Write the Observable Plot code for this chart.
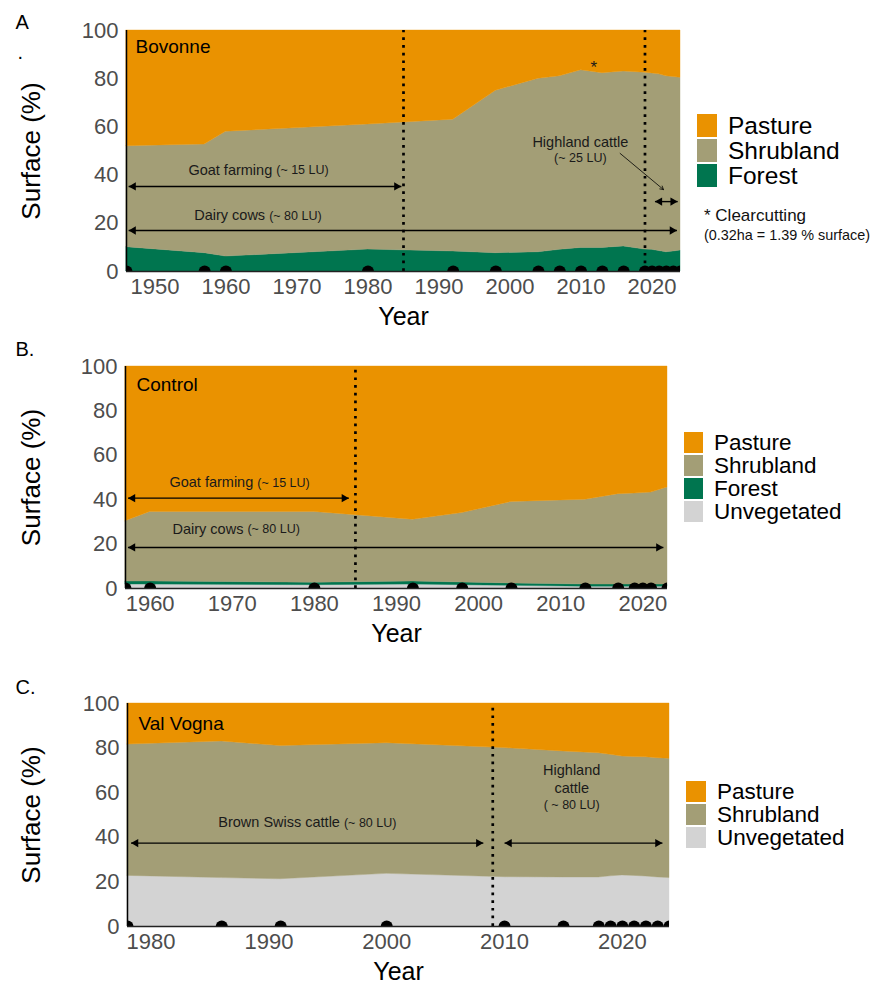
<!DOCTYPE html>
<html>
<head>
<meta charset="utf-8">
<script src="https://cdn.jsdelivr.net/npm/d3@7"></script>
<script src="https://cdn.jsdelivr.net/npm/@observablehq/plot@0.6"></script>
<style>
  body { margin: 0; background: #fff; }
  #fig { position: relative; width: 872px; height: 983px; overflow: hidden;
         font-family: 'Liberation Sans', Arial, Helvetica, sans-serif; }
  #fig svg.panel { position: absolute; left: 0; }
  .legend { position: absolute; color: #000; }
  .legend .row { display: flex; align-items: center; overflow: visible; }
  .legend .sw { box-sizing: border-box; border: 1px solid #fff; margin-right: 10px; flex: none; }
  .legend .lab { display: block; overflow: visible; white-space: nowrap; }
  .note { position: absolute; color: #111; white-space: nowrap; }
</style>
</head>
<body>
<div id="fig"></div>
<script>
const FONT = "'Liberation Sans', Arial, Helvetica, sans-serif";

// Land-cover classes and their fills
const covers = ["Pasture", "Shrubland", "Forest", "Unvegetated"];
const coverColors = ["#EA9200", "#A39E76", "#00754F", "#D3D3D3"];
const stackOrder = ["Unvegetated", "Forest", "Shrubland", "Pasture"];
const yTicks = [0, 20, 40, 60, 80, 100];

// A. Bovonne — surface share (%) at each survey year
const yearsA = [1946, 1957, 1960, 1980, 1992, 1998, 2004, 2007, 2010, 2013, 2016, 2019, 2020, 2021, 2022, 2023, 2024];
const forestA = [10.1, 7.6, 6.2, 9.1, 8.3, 7.6, 8.0, 9.0, 9.8, 9.8, 10.4, 9.1, 9.0, 8.5, 8.0, 8.3, 8.7];
const shrublandA = [41.9, 45.1, 51.8, 51.9, 54.7, 67.4, 72.0, 72.0, 73.7, 72.5, 72.6, 73.4, 73.2, 73.3, 73.0, 72.4, 71.7];
const pastureA = [48.0, 47.3, 42.0, 39.0, 37.0, 25.0, 20.0, 19.0, 16.5, 17.7, 17.0, 17.5, 17.8, 18.2, 19.0, 19.3, 19.6];
const ticksA = [1950, 1960, 1970, 1980, 1990, 2000, 2010, 2020];
const changesA = [1985, 2019];

// B. Control
const yearsB = [1957, 1960, 1980, 1992, 1998, 2004, 2013, 2017, 2019, 2020, 2021, 2023];
const unvegetatedB = [1.8, 1.8, 1.5, 1.8, 1.5, 1.2, 0.8, 0.8, 0.8, 0.8, 0.8, 0.8];
const forestB = [1.3, 1.4, 1.1, 1.4, 1.2, 1.1, 1.0, 1.0, 1.0, 1.0, 1.0, 1.0];
const shrublandB = [27.2, 31.3, 31.9, 27.8, 31.3, 36.7, 38.2, 40.7, 41.0, 41.2, 41.4, 43.7];
const pastureB = [69.7, 65.5, 65.5, 69.0, 66.0, 61.0, 60.0, 57.5, 57.2, 57.0, 56.8, 54.5];
const ticksB = [1960, 1970, 1980, 1990, 2000, 2010, 2020];
const changesB = [1985];

// C. Val Vogna
const yearsC = [1978, 1986, 1991, 2000, 2010, 2015, 2018, 2019, 2020, 2021, 2022, 2023, 2024];
const unvegetatedC = [22.7, 21.7, 21.2, 23.6, 22.1, 22.0, 22.0, 22.5, 22.9, 22.7, 22.4, 22.0, 21.7];
const shrublandC = [58.9, 61.3, 59.7, 58.6, 57.9, 56.5, 55.7, 54.5, 53.3, 53.3, 53.5, 53.5, 53.5];
const pastureC = [18.4, 17.0, 19.1, 17.8, 20.0, 21.5, 22.3, 23.0, 23.8, 24.0, 24.1, 24.5, 24.8];
const ticksC = [1980, 1990, 2000, 2010, 2020];
const changesC = [2009];

// Grazing periods (years)
const goatA = [1946.3, 1984.7], dairyA = [1946.3, 2023.5], highlandA = [2020.4, 2023.6];
const goatB = [1957.3, 1984.2], dairyB = [1957.3, 2022.5];
const brownSwissC = [1978.3, 2008.2], highlandC = [2010.0, 2023.4];

function longTable(years, series) {
  const rows = [];
  for (const [cover, values] of Object.entries(series)) {
    years.forEach((year, i) => rows.push({year, cover, value: values[i]}));
  }
  return rows;
}

// double-headed arrow spanning a period at a given surface level
function span([from, to], level) {
  const d = [{from, to, level}];
  return [
    Plot.link(d, {x1: "from", x2: "to", y1: "level", y2: "level", stroke: "#000", strokeWidth: 1.4}),
    Plot.dot(d, {x: "from", y: "level", symbol: "triangle", r: 3.1, fill: "#000", stroke: "none", rotate: -90, dx: 4.8}),
    Plot.dot(d, {x: "to", y: "level", symbol: "triangle", r: 3.1, fill: "#000", stroke: "none", rotate: 90, dx: -4.8})
  ];
}

// "Name (~ n LU)" label with the herd size set smaller
function periodLabel(x, y, name, lu) {
  return [
    Plot.text([name], {x: () => x, y: () => y, text: d => d, textAnchor: "end", dx: -2, fontSize: 14.5, fill: "#1a1a1a"}),
    Plot.text([lu], {x: () => x, y: () => y, text: d => d, textAnchor: "start", dx: 2, fontSize: 12.5, fill: "#1a1a1a"})
  ];
}

function label(x, y, text, size) {
  return Plot.text([text], {x: () => x, y: () => y, text: d => d, fontSize: size, fill: "#1a1a1a"});
}

function panel(cfg) {
  const {top, height, marginTop, marginBottom, marginLeft, marginRight, domain, ticks,
         years, rows, changes, site, siteDx, siteDy, letter, letterDy, extra} = cfg;
  const chart = Plot.plot({
    width: 872, height, marginTop, marginBottom, marginLeft, marginRight,
    style: {fontFamily: FONT, fontSize: "22px", color: "#4D4D4D", background: "transparent", overflow: "visible"},
    x: {domain, ticks, tickFormat: "d", tickSize: 0, tickPadding: 7, label: null},
    y: {domain: [0, 100], ticks: yTicks, tickSize: 0, tickPadding: 8, label: null},
    color: {domain: covers, range: coverColors},
    marks: [
      Plot.areaY(rows, {x: "year", y: "value", fill: "cover", stroke: "cover", strokeWidth: 0.4, order: stackOrder}),
      Plot.ruleX(changes, {x: d => d, y1: 0, y2: 100, stroke: "#000", strokeWidth: 2.7, strokeDasharray: "2.7 5"}),
      ...extra,
      Plot.text([site], {frameAnchor: "top-left", dx: siteDx, dy: siteDy, lineAnchor: "middle", fontSize: 19, fill: "#000"}),
      Plot.dot(years, {x: d => d, y: () => 0, r: 6, fill: "#000", stroke: "none", clip: true}),
      Plot.ruleX([domain[0]], {stroke: "#000", strokeWidth: 1.5}),
      Plot.ruleY([0], {stroke: "#222", strokeWidth: 1.5}),
      Plot.text(["Surface (%)"], {frameAnchor: "left", dx: 31 - marginLeft, rotate: -90, textAnchor: "middle", lineAnchor: "middle", fontSize: 26, fill: "#000"}),
      Plot.text(["Year"], {frameAnchor: "bottom", dy: 45, lineAnchor: "middle", fontSize: 25, fill: "#000"}),
      Plot.text([letter], {frameAnchor: "top-left", dx: 15 - marginLeft, dy: letterDy, textAnchor: "start", lineAnchor: "middle", fontSize: 20, fill: "#000"}),
      ...(cfg.more || [])
    ]
  });
  chart.classList.add("panel");
  chart.style.top = top + "px";
  return chart;
}

function legend(chart, items, {left, top, sw, rowH, size}) {
  const color = chart.scale("color");
  const div = document.createElement("div");
  div.className = "legend";
  div.style.left = left + "px";
  div.style.top = top + "px";
  for (const item of items) {
    const row = document.createElement("div");
    row.className = "row";
    row.style.height = rowH + "px";
    const box = document.createElement("div");
    box.className = "sw";
    box.style.width = sw + "px";
    box.style.height = rowH + "px";
    box.style.background = color.range[color.domain.indexOf(item)];
    const t = document.createElement("div");
    t.className = "lab";
    t.textContent = item;
    t.style.fontSize = size + "px";
    t.style.height = rowH + "px";
    t.style.lineHeight = rowH + "px";
    row.append(box, t);
    div.append(row);
  }
  return div;
}

const fig = document.getElementById("fig");

// ---- A. Bovonne
const chartA = panel({
  top: 0, height: 330, marginTop: 30, marginBottom: 59, marginLeft: 126, marginRight: 192,
  domain: [1946, 2024], ticks: ticksA, years: yearsA, changes: changesA,
  rows: longTable(yearsA, {Forest: forestA, Shrubland: shrublandA, Pasture: pastureA}),
  site: "Bovonne", siteDx: 9, siteDy: 16.5, letter: "A", letterDy: -8.3,
  extra: [
    ...span(goatA, 35.3), ...periodLabel(1966.8, 42, "Goat farming", "(~ 15 LU)"),
    ...span(dairyA, 17), ...periodLabel(1965.8, 23.2, "Dairy cows", "(~ 80 LU)"),
    ...span(highlandA, 29),
    label(2009.9, 53.5, "Highland cattle", 14.5),
    label(2009.9, 47, "(~ 25 LU)", 12.5),
    Plot.arrow([{x1: 2015.5, y1: 49, x2: 2021.6, y2: 34}], {x1: "x1", y1: "y1", x2: "x2", y2: "y2", stroke: "#000", strokeWidth: 0.8, headLength: 7}),
    label(2011.8, 84.8, "*", 17)
  ],
  more: [
    Plot.text(["."], {frameAnchor: "top-left", dx: 17 - 126, dy: 21.6, textAnchor: "start", lineAnchor: "middle", fontSize: 20, fill: "#000"})
  ]
});
fig.append(chartA);
fig.append(legend(chartA, ["Pasture", "Shrubland", "Forest"], {left: 696, top: 113, sw: 22, rowH: 25, size: 24.5}));
const note1 = document.createElement("div");
note1.className = "note";
note1.style.cssText = "left:704px;top:206px;font-size:17px;";
note1.textContent = "* Clearcutting";
const note2 = document.createElement("div");
note2.className = "note";
note2.style.cssText = "left:704px;top:227px;font-size:14.4px;";
note2.textContent = "(0.32ha = 1.39 % surface)";
fig.append(note1, note2);

// ---- B. Control
const chartB = panel({
  top: 330, height: 320, marginTop: 36, marginBottom: 62, marginLeft: 125, marginRight: 205,
  domain: [1957, 2023], ticks: ticksB, years: yearsB, changes: changesB,
  rows: longTable(yearsB, {Unvegetated: unvegetatedB, Forest: forestB, Shrubland: shrublandB, Pasture: pastureB}),
  site: "Control", siteDx: 11, siteDy: 18.5, letter: "B.", letterDy: -17,
  extra: [
    ...span(goatB, 40.7), ...periodLabel(1972.8, 47.7, "Goat farming", "(~ 15 LU)"),
    ...span(dairyB, 18.5), ...periodLabel(1971.6, 26.6, "Dairy cows", "(~ 80 LU)")
  ]
});
fig.append(chartB);
fig.append(legend(chartB, ["Pasture", "Shrubland", "Forest", "Unvegetated"], {left: 683, top: 431, sw: 21, rowH: 23, size: 22.5}));

// ---- C. Val Vogna
const chartC = panel({
  top: 650, height: 333, marginTop: 53, marginBottom: 57, marginLeft: 127, marginRight: 203,
  domain: [1978, 2024], ticks: ticksC, years: yearsC, changes: changesC,
  rows: longTable(yearsC, {Unvegetated: unvegetatedC, Shrubland: shrublandC, Pasture: pastureC}),
  site: "Val Vogna", siteDx: 11, siteDy: 20, letter: "C.", letterDy: -15.5,
  extra: [
    ...span(brownSwissC, 37.4), ...periodLabel(1996.2, 46.6, "Brown Swiss cattle", "(~ 80 LU)"),
    ...span(highlandC, 37.4),
    label(2015.7, 70, "Highland", 14.5),
    label(2015.7, 61.9, "cattle", 14.5),
    label(2015.7, 54.3, "( ~ 80 LU)", 12.5)
  ]
});
fig.append(chartC);
fig.append(legend(chartC, ["Pasture", "Shrubland", "Unvegetated"], {left: 685, top: 780, sw: 22, rowH: 23, size: 22.5}));
</script>
</body>
</html>
